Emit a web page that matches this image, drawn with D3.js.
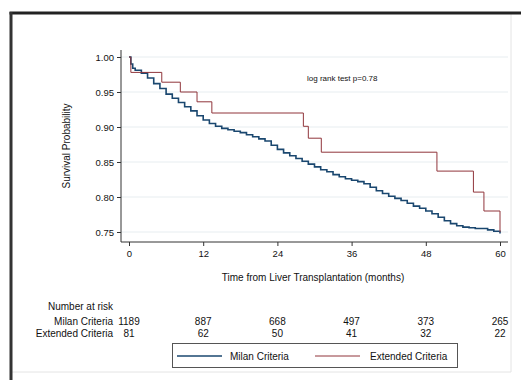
<!DOCTYPE html>
<html><head><meta charset="utf-8">
<script src="https://cdn.jsdelivr.net/npm/d3@7"></script>
<style>html,body{margin:0;padding:0;background:#fff;}svg{display:block;}text{font-family:"Liberation Sans",Arial,sans-serif;fill:#111;}</style>
</head><body>
<script>
// ---- data ----
const milanTime = [0,0.3,0.6,1,2,3,4,5,6,7,8,9,10,11,12,13,14,15,16,17,18,19,20,21,22,23,24,25,26,27,28,29,30,31,32,33,34,35,36,37,38,39,40,41,42,43,44,45,46,47,48,49,50,51,52,53,54,55,56,57,58,59,60];
const milanSurv = [1.000,0.990,0.984,0.981,0.977,0.970,0.962,0.955,0.947,0.941,0.935,0.929,0.923,0.916,0.910,0.905,0.901,0.898,0.896,0.894,0.892,0.889,0.886,0.883,0.880,0.874,0.868,0.863,0.859,0.855,0.851,0.847,0.843,0.839,0.836,0.832,0.829,0.826,0.824,0.822,0.819,0.814,0.809,0.805,0.801,0.798,0.795,0.791,0.787,0.784,0.780,0.776,0.771,0.766,0.762,0.759,0.757,0.756,0.755,0.755,0.753,0.751,0.748];
const extTime = [0,0.3,5.3,8.3,11.0,13.4,28.2,29.0,31.1,49.8,55.7,57.4,60];
const extSurv = [1.000,0.978,0.964,0.950,0.936,0.920,0.901,0.884,0.864,0.837,0.807,0.780,0.750];
const xTicks = [0,12,24,36,48,60];
const yTicks = [0.75,0.80,0.85,0.90,0.95,1.00];
const riskGroups = ["Milan Criteria","Extended Criteria"];
const riskMilan = [1189,887,668,497,373,265];
const riskExtended = [81,62,50,41,32,22];
const colors = ["#1a476f","#90353b"];

const W = 521, H = 380;
const svg = d3.select("body").append("svg").attr("width",W).attr("height",H);

// outer frame
svg.append("line").attr("x1",511).attr("x2",511).attr("y1",14).attr("y2",372).attr("stroke","#e4e4e4").attr("stroke-width",1);
svg.append("line").attr("x1",12).attr("x2",511).attr("y1",372).attr("y2",372).attr("stroke","#e4e4e4").attr("stroke-width",1);
svg.append("line").attr("x1",9.5).attr("x2",521).attr("y1",13).attr("y2",13).attr("stroke","#222").attr("stroke-width",3);
svg.append("line").attr("x1",11).attr("x2",11).attr("y1",12).attr("y2",380).attr("stroke","#333").attr("stroke-width",3);

const x = d3.scaleLinear().domain([0,60]).range([129,500]);
const y = d3.scaleLinear().domain([0.75,1.00]).range([232,57]);
const plotL = 121, plotR = 508, plotT = 50, plotB = 242;

// gridlines
svg.append("g").selectAll("line").data(yTicks).join("line")
  .attr("x1",plotL).attr("x2",plotR).attr("y1",d=>y(d)).attr("y2",d=>y(d))
  .attr("stroke","#e7edf0").attr("stroke-width",1);

// axes
const ya = svg.append("g").attr("transform",`translate(${plotL},0)`)
  .call(d3.axisLeft(y).tickValues(yTicks).tickFormat(d3.format(".2f")).tickSize(4).tickPadding(3));
const xa = svg.append("g").attr("transform",`translate(0,${plotB})`)
  .call(d3.axisBottom(x).tickValues(xTicks).tickSize(4).tickPadding(4));
[ya,xa].forEach(g=>{g.select(".domain").remove();g.selectAll("text").style("font-family","'Liberation Sans',Arial,sans-serif").style("font-size","9.5px").attr("fill","#111");g.selectAll(".tick line").attr("stroke","#333");});
svg.append("line").attr("x1",plotL).attr("x2",plotL).attr("y1",plotT).attr("y2",plotB).attr("stroke","#333");
svg.append("line").attr("x1",plotL).attr("x2",plotR).attr("y1",plotB).attr("y2",plotB).attr("stroke","#333");

// curves
const line = d3.line().curve(d3.curveStepAfter).x(d=>x(d[0])).y(d=>y(d[1]));
svg.append("path").datum(milanTime.map((t,i)=>[t,milanSurv[i]])).attr("d",line)
  .attr("fill","none").attr("stroke",colors[0]).attr("stroke-width",1.6);
svg.append("path").datum(extTime.map((t,i)=>[t,extSurv[i]])).attr("d",line)
  .attr("fill","none").attr("stroke",colors[1]).attr("stroke-width",1);

// titles
svg.append("text").attr("transform",`translate(70,${(plotT+plotB)/2}) rotate(-90)`).attr("text-anchor","middle")
  .style("font-size","10px").text("Survival Probability");
svg.append("text").attr("x",313).attr("y",281).attr("text-anchor","middle").style("font-size","10px")
  .text("Time from Liver Transplantation (months)");
svg.append("text").attr("x",307).attr("y",81).style("font-size","8px").text("log rank test p=0.78");

// risk table
svg.append("text").attr("x",113).attr("y",310).attr("text-anchor","end").style("font-size","10px").text("Number at risk");
const rows = [riskMilan, riskExtended];
rows.forEach((r,ri)=>{
  const yy = 325 + ri*12;
  svg.append("text").attr("x",113).attr("y",yy).attr("text-anchor","end").style("font-size","10px").text(riskGroups[ri]);
  svg.append("g").selectAll("text").data(r).join("text")
    .attr("x",(d,i)=>x(xTicks[i])).attr("y",yy).attr("text-anchor","middle").style("font-size","10px").text(d=>d);
});

// legend
const lg = svg.append("g");
lg.append("rect").attr("x",172.5).attr("y",343.5).attr("width",285).attr("height",24).attr("fill","#fff").attr("stroke","#555").attr("stroke-width",1);
const legItems = [{x1:177,x2:222,tx:230},{x1:315,x2:360,tx:370}];
legItems.forEach((it,i)=>{
  lg.append("line").attr("x1",it.x1).attr("x2",it.x2).attr("y1",356).attr("y2",356).attr("stroke",colors[i]).attr("stroke-width",i?1:1.6);
  lg.append("text").attr("x",it.tx).attr("y",359.5).style("font-size","10px").text(riskGroups[i]);
});
</script>
</body></html>
